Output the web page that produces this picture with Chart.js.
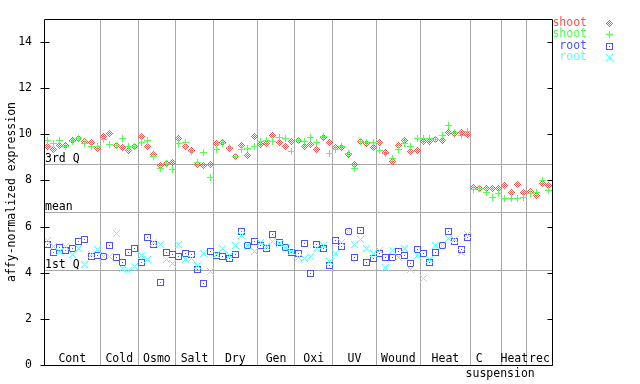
<!DOCTYPE html>
<html>
<head>
<meta charset="utf-8">
<script src="https://cdn.jsdelivr.net/npm/chart.js@4/dist/chart.umd.min.js"></script>
<style>
html,body{margin:0;padding:0;background:#fff;}
#wrap{width:640px;height:384px;position:relative;}
</style>
</head>
<body>
<div id="wrap"><canvas id="c" width="640" height="384"></canvas></div>
<script>
// ---- data ----
const groupNames = ["Cont","Cold","Osmo","Salt","Dry","Gen","Oxi","UV","Wound","Heat","C","Heat","rec"];
const groupSizes = [9,6,6,6,7,6,6,7,7,8,5,4,4];
const subLabel = "suspension";
const yTicks = [0,2,4,6,8,10,12,14];
const quartileNames = ["1st Q","mean","3rd Q"];
const quartileValues = [4.08, 6.61, 8.67];
const seriesNames = ["shoot","shoot","root","root"];

const shootRed = [9.49,9.36,9.53,9.53,9.73,9.80,9.70,9.64,9.39,
  9.91,10.04,9.52,9.41,9.31,9.49,
  9.91,9.45,9.11,8.66,8.72,8.76,
  9.80,9.45,9.28,8.67,8.63,8.67,
  9.60,9.64,9.39,9.03,9.53,9.10,9.90,
  9.56,9.60,9.94,9.64,9.48,9.69,
  9.73,9.48,9.56,9.35,9.86,9.64,
  9.43,9.43,9.14,8.69,9.69,9.60,9.43,
  9.64,9.22,8.84,9.53,9.73,9.27,9.31,
  9.69,9.69,9.77,9.73,10.07,10.02,10.07,9.98,
  7.69,7.66,7.65,7.66,7.65,
  7.79,7.49,7.83,7.47,
  7.51,7.33,7.87,7.79];
const shootGreen = [9.73,9.62,9.73,9.49,9.70,9.83,9.60,9.49,9.45,
  9.77,9.56,9.53,9.80,9.49,9.49,
  9.64,9.73,9.03,8.51,8.72,8.46,
  9.62,9.66,9.24,8.76,9.19,8.13,
  9.35,9.62,9.43,9.03,9.35,9.39,9.48,
  9.69,9.73,9.69,9.86,9.81,9.27,
  9.73,9.69,9.86,9.64,9.90,9.18,
  9.35,9.48,9.18,8.51,9.69,9.64,9.64,
  9.31,9.18,8.97,9.35,9.60,9.45,9.81,
  9.81,9.81,9.77,9.94,10.40,10.07,9.94,10.11,
  7.61,7.66,7.49,7.28,7.45,
  7.20,7.20,7.24,7.28,
  7.45,7.47,8.01,7.58];
const rootBlue = [5.22,4.88,5.09,4.96,5.05,5.34,5.43,4.71,4.75,
  4.71,5.17,4.67,4.46,4.88,5.05,
  4.46,5.51,5.22,3.56,4.88,4.80,
  4.72,4.84,4.80,4.16,3.53,4.92,
  4.75,4.71,4.63,4.80,5.81,5.17,5.34,
  5.17,5.05,5.68,5.30,5.09,4.88,
  4.84,5.26,3.99,5.22,5.05,4.33,
  5.39,5.13,5.81,4.67,5.85,4.46,4.63,
  4.84,4.67,4.67,4.92,4.75,4.42,5.01,
  4.84,4.46,4.88,5.17,5.77,5.34,5.01,5.51];
const rootCyan = [5.39,5.13,4.92,5.13,4.80,5.05,4.37,4.80,5.01,
  4.71,4.71,5.72,4.20,4.12,4.29,
  4.75,4.58,5.30,5.22,4.58,4.42,
  5.22,4.58,4.63,4.33,4.84,4.04,
  4.80,5.05,4.75,5.17,5.60,5.17,4.92,
  5.30,5.13,5.34,5.26,5.09,4.92,
  4.67,4.63,4.71,5.05,5.17,4.50,
  4.84,5.30,5.77,5.22,5.43,5.05,4.84,
  4.96,4.25,4.96,4.67,5.05,4.16,4.75,
  3.74,4.58,5.17,5.17,5.47,5.43,4.88,5.68];

// ---- styling ----
const COLORS = ['#ff5050','#50ff50','#5050ff','#55ffff'];
const FONT = '"DejaVu Sans Mono", "Liberation Mono", monospace';
const FSIZE = 11.5;
const GRID = '#a8a8a8';

function makeMarker(kind, color){
  const c = document.createElement('canvas');
  c.width = 7; c.height = 7;
  const g = c.getContext('2d');
  g.fillStyle = color;
  for (let y=0;y<7;y++) for (let x=0;x<7;x++){
    const dx=x-3, dy=y-3;
    let on=false;
    if (kind==='diamond') on = (Math.abs(dx)+Math.abs(dy)<=3) && ((Math.abs(dx)+Math.abs(dy))%2===1);
    if (kind==='plus') on = (dx===0||dy===0);
    if (kind==='square') on = (x===0||x===6||y===0||y===6||(dx===0&&dy===0));
    if (kind==='x') on = (dx===dy||dx===-dy);
    if (on) g.fillRect(x,y,1,1);
  }
  return c;
}
const markers = [makeMarker('diamond',COLORS[0]),makeMarker('plus',COLORS[1]),makeMarker('square',COLORS[2]),makeMarker('x',COLORS[3])];

// boundaries & centers (in sample-index units)
const bounds = [0];
groupSizes.forEach(s=>bounds.push(bounds[bounds.length-1]+s));
const total = bounds[bounds.length-1];
const toPts = arr => arr.map((v,i)=>({x:i+0.5,y:v}));

const deco = {
  id:'deco',
  beforeDraw(chart){ chart.ctx.imageSmoothingEnabled = false; },
  beforeDatasetsDraw(chart){ chart.ctx.imageSmoothingEnabled = false; },
  afterDraw(chart){
    const ctx = chart.ctx, a = chart.chartArea;
    const xs = chart.scales.x, ys = chart.scales.y;
    ctx.save();
    ctx.strokeStyle = '#000'; ctx.lineWidth = 1;
    const L = Math.round(a.left)+0.5, R = Math.round(a.right)+0.5, T = Math.round(a.top)+0.5, B = Math.round(a.bottom)+0.5;
    ctx.beginPath();
    ctx.moveTo(L,T); ctx.lineTo(R,T); ctx.lineTo(R,B); ctx.lineTo(L,B); ctx.closePath();
    yTicks.forEach(v=>{
      const y = Math.round(ys.getPixelForValue(v))+0.5;
      ctx.moveTo(L-4,y); ctx.lineTo(L+5,y);
      ctx.moveTo(R-5,y); ctx.lineTo(R,y);
    });
    ctx.stroke();
    ctx.fillStyle = '#000';
    ctx.font = FSIZE+'px '+FONT;
    ctx.textBaseline = 'bottom'; ctx.textAlign = 'left';
    quartileValues.forEach((v,i)=>{
      const y = Math.round(ys.getPixelForValue(v));
      ctx.fillText(quartileNames[i], a.left+1, y);
    });
    ctx.textBaseline = 'alphabetic'; ctx.textAlign = 'center';
    groupNames.forEach((n,i)=>{
      let cx = xs.getPixelForValue((bounds[i]+bounds[i+1])/2);
      if (n==='C') cx -= 7;
      ctx.fillText(n, cx, a.bottom-3);
    });
    const ci = groupNames.indexOf('C');
    ctx.fillText(subLabel, xs.getPixelForValue((bounds[ci]+bounds[ci+1])/2)+14, a.bottom+12);
    // legend
    ctx.textAlign = 'right'; ctx.textBaseline = 'middle';
    seriesNames.forEach((n,i)=>{
      const y = 23 + i*11.3;
      ctx.fillStyle = COLORS[i];
      ctx.fillText(n, 587, y);
      ctx.drawImage(markers[i], 606, Math.round(y)-3);
    });
    ctx.restore();
  }
};

new Chart(document.getElementById('c'), {
  type:'scatter',
  data:{datasets:[
    {label:seriesNames[0], data:toPts(shootRed), pointStyle:markers[0], order:4},
    {label:seriesNames[1], data:toPts(shootGreen), pointStyle:markers[1], order:3},
    {label:seriesNames[2], data:toPts(rootBlue), pointStyle:markers[2], order:2},
    {label:seriesNames[3], data:toPts(rootCyan), pointStyle:markers[3], order:1}
  ]},
  options:{
    responsive:false, animation:false, devicePixelRatio:1,
    layout:{padding:{left:0,top:13,right:88,bottom:15}},
    plugins:{legend:{display:false}, tooltip:{enabled:false}},
    elements:{point:{radius:3.5, hoverRadius:3.5}},
    scales:{
      x:{type:'linear', min:0, max:total,
        afterBuildTicks(s){ s.ticks = bounds.slice(1,-1).map(v=>({value:v})); },
        afterFit(s){ s.height = 0; },
        ticks:{display:false},
        grid:{color:GRID, drawTicks:false, lineWidth:1},
        border:{display:false}
      },
      y:{type:'linear', position:'left', min:0, max:15,
        afterBuildTicks(s){ s.ticks = yTicks.map(v=>({value:v})); },
        afterFit(s){ s.width = 44; },
        ticks:{color:'#000', padding:12, font:{family:FONT,size:FSIZE}},
        grid:{display:false, drawTicks:false},
        border:{display:false},
        title:{display:true, text:'affy-normalized expression', color:'#000', font:{family:FONT,size:FSIZE}, padding:{top:5,bottom:0}}
      },
      q:{type:'linear', position:'right', min:0, max:15,
        afterBuildTicks(s){ s.ticks = quartileValues.map(v=>({value:v})); },
        afterFit(s){ s.width = 0; },
        ticks:{display:false},
        grid:{color:GRID, drawTicks:false, lineWidth:1},
        border:{display:false}
      }
    }
  },
  plugins:[deco]
});
</script>
</body>
</html>
